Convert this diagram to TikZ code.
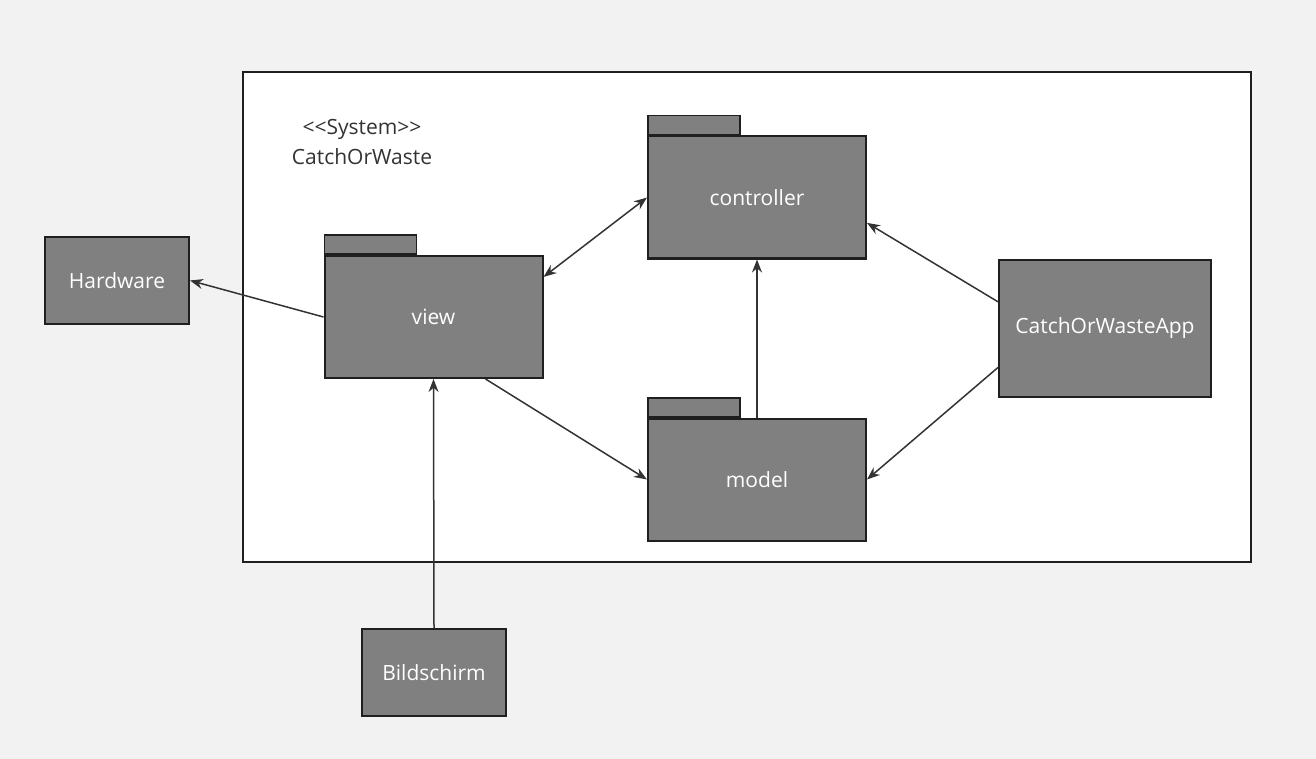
\documentclass[tikz,border=0pt]{standalone}
\usepackage{fontspec}
\setmainfont{Open Sans}[Ligatures=TeXOff]
\usepackage{tikz}
\usetikzlibrary{arrows.meta}
\usetikzlibrary{positioning}
\definecolor{pagebg}{HTML}{F2F2F2}
\definecolor{pkgfill}{HTML}{808080}
\definecolor{pkgline}{HTML}{1F1F1F}
\definecolor{wire}{HTML}{333333}
\tikzset{
  % arrow tips and common styles
  >={Stealth[length=13pt,width=10pt]},
  line/.style={draw=wire, line width=1.5pt, ->},
  dline/.style={draw=wire, line width=1.5pt, <->},
  block/.style={draw=pkgline, fill=pkgfill, line width=2pt, rectangle, text=white,
    minimum width=144pt, minimum height=87pt, font=\fontsize{21}{25}\selectfont},
  pkg/.style={block, minimum width=218pt, minimum height=122pt},
  pkgtab/.style={draw=pkgline, fill=pkgfill, line width=1.5pt, rectangle, inner sep=0pt,
    minimum width=92pt, minimum height=19pt, anchor=south west}
}

\begin{document}
\begin{tikzpicture}[x=1pt, y=-1pt]
    \useasboundingbox (0,0) rectangle (1316,759);
    \fill[pagebg] (0,0) rectangle (1316,759);

    % System frame
    \node [draw=pkgline, fill=white, line width=2pt, minimum width=1008pt, minimum height=490pt] (sysbox) at (747,317) {};
    \node [text=wire, align=center, font=\fontsize{21}{30}\selectfont] (syslabel) at (362,142) {<<System>>\\CatchOrWaste};

    % Place packages
    \node [pkg] (controller) at (757,197.5) {controller};
    \node [pkg] (view) at (433.5,317) {view};
    \node [pkg] (model) at (757,479.5) {model};
    \node [pkgtab] (controllertab) at (controller.north west) {};
    \node [pkgtab] (viewtab) at (view.north west) {};
    \node [pkgtab] (modeltab) at (model.north west) {};

    % Place outer blocks
    \node [block] (hardware) at (117,280.5) {Hardware};
    \node [block, minimum width=212pt, minimum height=137pt] (app) at (1105,328.5) {CatchOrWasteApp};
    \node [block] (screen) at (434,672.5) {Bildschirm};

    % Draw edges
    \path [line] (view.west) -- (hardware.east);
    \path [dline] (view.20) -- (controller.west);
    \path [line] (view.-50) -- (model.west);
    \path [line] (model.north) -- (controller.south);
    \path [line] (app.166) -- (controller.-13);
    \path [line] (app.200) -- (model.east);
    \path [line] (screen.north) -- (view.south);
\end{tikzpicture}
\end{document}
